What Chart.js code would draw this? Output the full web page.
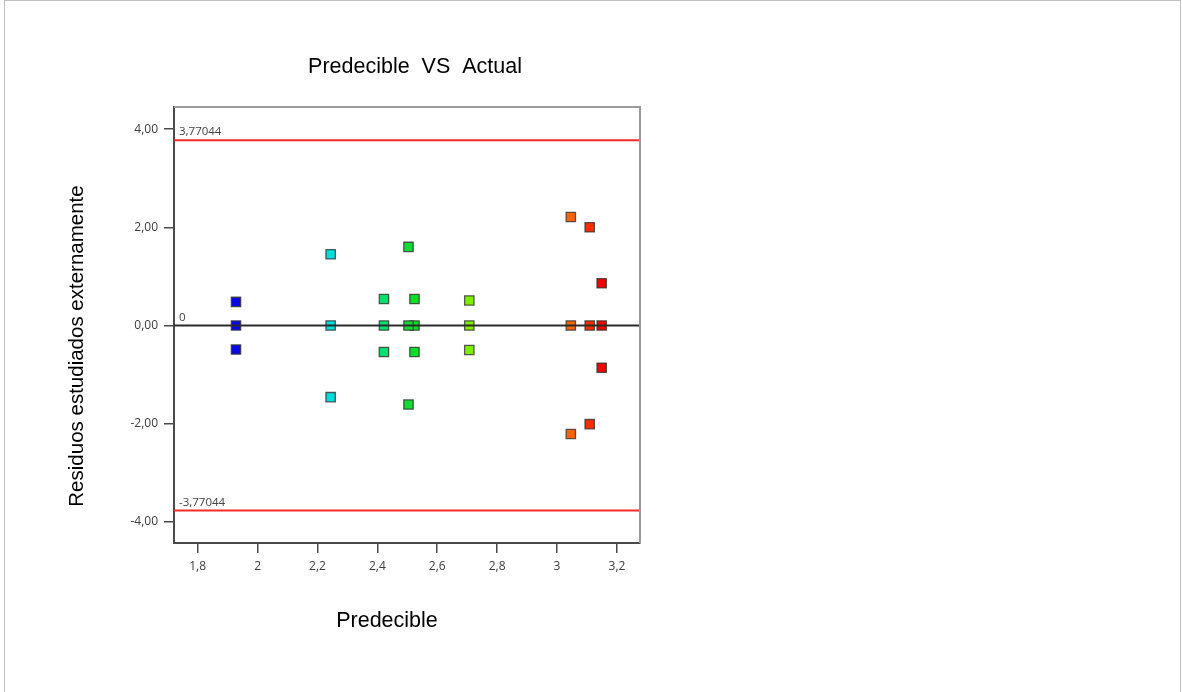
<!DOCTYPE html>
<html>
<head>
<meta charset="utf-8">
<title>Predecible VS Actual</title>
<script src="https://cdn.jsdelivr.net/npm/chart.js@4/dist/chart.umd.min.js"></script>
<style>
  html, body { margin: 0; padding: 0; background: #fff; }
  #wrap { width: 1182px; height: 692px; position: relative; }
</style>
</head>
<body>
<div id="wrap"><canvas id="c" width="1182" height="692"></canvas></div>
<script>
// Predicted value of each run group (x axis)
const predicted = [1.928, 2.244, 2.422, 2.504, 2.524, 2.707, 3.046, 3.109, 3.149];
// Externally studentized residuals for each group (three runs per group)
const residualsHigh = [0.48, 1.45, 0.54, 1.60, 0.54, 0.51, 2.21, 2.00, 0.86];
const residualsMid  = [0, 0, 0, 0, 0, 0, 0, 0, 0];
const residualsLow  = [-0.49, -1.46, -0.54, -1.61, -0.54, -0.50, -2.21, -2.01, -0.86];
// Control limits
const upperLimit = 3.77044;
const lowerLimit = -3.77044;
const centerLine = 0;
// Axis ticks
const xTicks = [1.8, 2, 2.2, 2.4, 2.6, 2.8, 3, 3.2];
const yTicks = [-4, -2, 0, 2, 4];
const xRange = [1.721, 3.277];
const yRange = [-4.43, 4.45];

const groupColors = ['#0a0ae0', '#00dcdc', '#00e06c', '#10dc34', '#06e024', '#80ec00', '#ff6400', '#ff2c00', '#ee0404'];

const scatterSets = predicted.map((x, i) => ({
  type: 'scatter',
  data: [
    { x: x, y: residualsHigh[i] },
    { x: x, y: residualsMid[i] },
    { x: x, y: residualsLow[i] }
  ],
  pointStyle: 'rect',
  pointRadius: 6.6,
  pointHoverRadius: 6.6,
  pointBackgroundColor: groupColors[i],
  pointBorderColor: 'rgba(50,50,50,0.8)',
  pointBorderWidth: 1.3,
  order: 2
}));

function hLine(value, color, width) {
  return {
    type: 'line',
    data: [{ x: xRange[0], y: value }, { x: xRange[1], y: value }],
    borderColor: color,
    borderWidth: width,
    pointRadius: 0,
    pointHoverRadius: 0,
    fill: false,
    order: 1
  };
}

const lineSets = [
  hLine(upperLimit, '#f22a2a', 2),
  hLine(lowerLimit, '#f22a2a', 2),
  hLine(centerLine, '#2a2a2a', 2)
];

const fmtComma = (v, d) => (d === undefined ? String(v) : v.toFixed(d)).replace('.', ',');

// Frame, limit labels, titles and the page outline
const decorations = {
  id: 'decorations',
  afterDatasetsDraw(chart) {
    const { ctx, chartArea: a, scales } = chart;
    ctx.save();
    ctx.strokeStyle = '#9a9a9a';
    ctx.lineWidth = 2;
    ctx.beginPath();
    ctx.moveTo(a.left, a.top);
    ctx.lineTo(a.right, a.top);
    ctx.lineTo(a.right, a.bottom);
    ctx.stroke();

    ctx.fillStyle = '#444';
    ctx.font = '11.5px "Open Sans"';
    ctx.textAlign = 'left';
    ctx.textBaseline = 'alphabetic';
    const lx = a.left + 5;
    ctx.fillText(fmtComma(upperLimit), lx, scales.y.getPixelForValue(upperLimit) - 5);
    ctx.fillText(fmtComma(centerLine), lx, scales.y.getPixelForValue(centerLine) - 4);
    ctx.fillText(fmtComma(lowerLimit), lx, scales.y.getPixelForValue(lowerLimit) - 5);
    ctx.restore();
  },
  afterDraw(chart) {
    const { ctx } = chart;
    ctx.save();
    ctx.fillStyle = '#000';
    ctx.textAlign = 'center';
    ctx.textBaseline = 'middle';
    ctx.font = '21.5px "Liberation Sans", Arial, sans-serif';
    ctx.fillText('Predecible  VS  Actual', 415, 67);
    ctx.fillText('Predecible', 387, 621);
    ctx.font = '20.5px "Liberation Sans", Arial, sans-serif';
    ctx.translate(77, 346);
    ctx.rotate(-Math.PI / 2);
    ctx.fillText('Residuos estudiados externamente', 0, 0);
    ctx.restore();

    ctx.save();
    ctx.strokeStyle = '#c0c0c0';
    ctx.lineWidth = 1;
    ctx.strokeRect(4.5, 0.5, 1176, 720);
    ctx.restore();
  }
};

new Chart(document.getElementById('c'), {
  data: { datasets: [...lineSets, ...scatterSets] },
  options: {
    responsive: false,
    animation: false,
    events: [],
    layout: { autoPadding: false, padding: { left: 114, right: 542, top: 107, bottom: 109 } },
    plugins: { legend: { display: false }, tooltip: { enabled: false }, title: { display: false } },
    scales: {
      x: {
        type: 'linear',
        min: xRange[0],
        max: xRange[1],
        afterBuildTicks: s => { s.ticks = xTicks.map(v => ({ value: v })); },
        afterFit: s => { s.height = 40; },
        border: { color: '#4a4a4a', width: 2 },
        grid: { drawOnChartArea: false, drawTicks: true, tickLength: 10, color: '#4a4a4a', lineWidth: 1.5 },
        ticks: { padding: 6, color: '#3c3c3c', font: { family: 'Open Sans', size: 12 }, maxRotation: 0,
                 callback: v => fmtComma(v) }
      },
      y: {
        type: 'linear',
        min: yRange[0],
        max: yRange[1],
        afterBuildTicks: s => { s.ticks = yTicks.map(v => ({ value: v })); },
        afterFit: s => { s.width = 60; },
        border: { color: '#4a4a4a', width: 2 },
        grid: { drawOnChartArea: false, drawTicks: true, tickLength: 10, color: '#4a4a4a', lineWidth: 1.5 },
        ticks: { padding: 6, color: '#3c3c3c', font: { family: 'Open Sans', size: 12 },
                 callback: v => fmtComma(v, 2) }
      }
    }
  },
  plugins: [decorations]
});
</script>
</body>
</html>
